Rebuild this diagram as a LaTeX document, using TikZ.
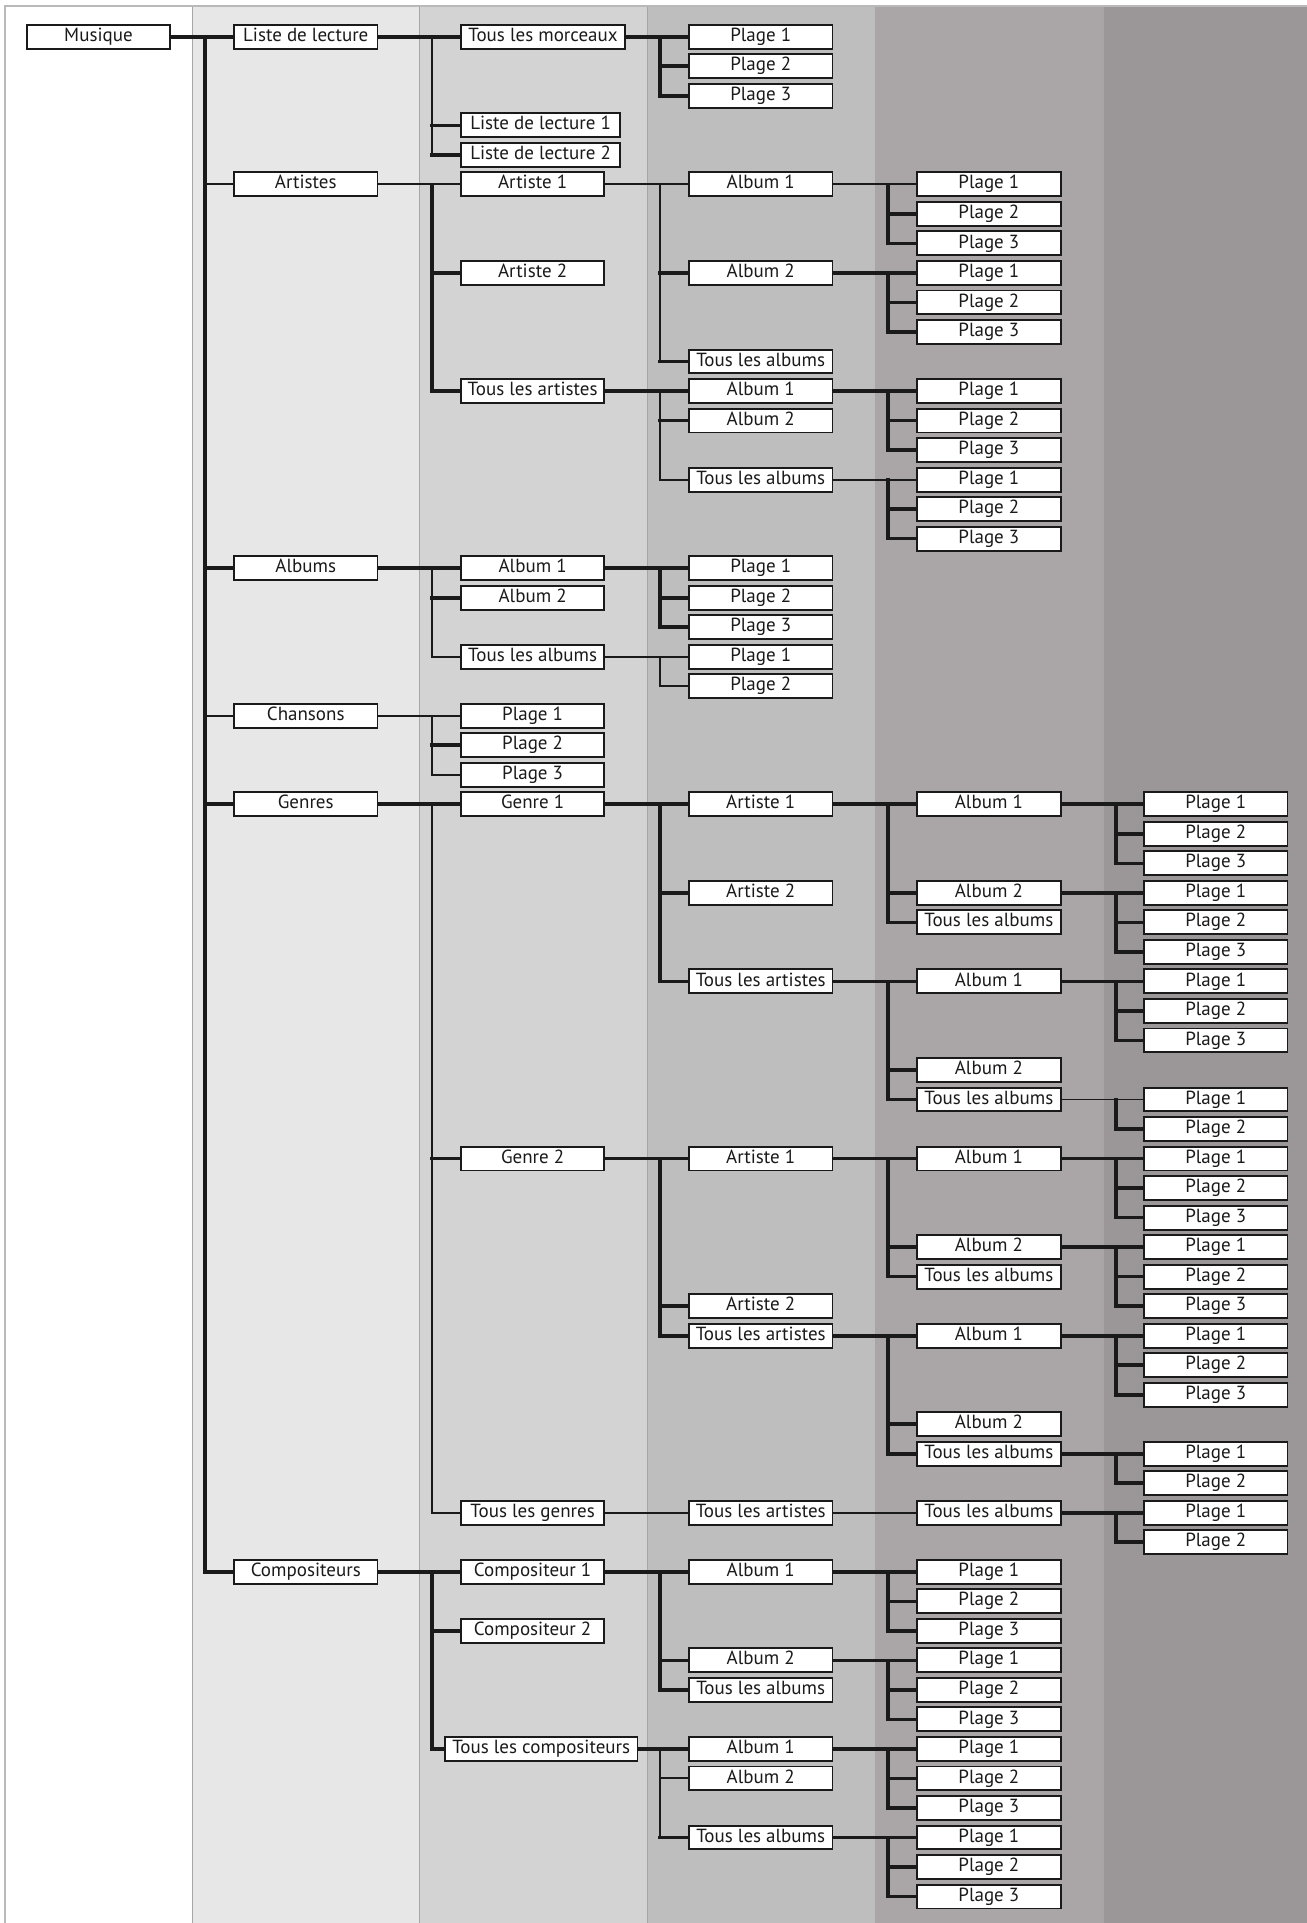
\documentclass[tikz,border=0pt]{standalone}
\usepackage{fontspec}
\setmainfont{PT Sans}
\usetikzlibrary{calc}
\definecolor{bA}{HTML}{FFFFFF}
\definecolor{bB}{HTML}{E7E7E7}
\definecolor{bC}{HTML}{D3D3D3}
\definecolor{bD}{HTML}{BEBEBE}
\definecolor{bE}{HTML}{AAA6A7}
\definecolor{bF}{HTML}{9B9798}
\definecolor{ink}{HTML}{1A1A1A}
\tikzset{
  box/.style={draw=ink, line width=1.6, fill=white, anchor=west, minimum width=117, minimum height=19.5, inner sep=0, text height=11, text depth=3.5, font=\fontsize{15.5}{17}\selectfont, text=ink},
  lk/.style={draw=ink, line width=3.0, line cap=rect},
  lt/.style={draw=ink, line width=1.6, line cap=rect},
  sep/.style={draw=gray!70, line width=0.8}
}
\newcommand\bx[5][117]{\node[box, minimum width=#1] (#2) at (#3,{30+24.07*#4}) {#5};}
\newcommand\plages[4]{\foreach \k in {1,...,#4} {\pgfmathtruncatemacro\rr{#3+\k-1}\node[box] (#1\k) at (#2,{30+24.07*\rr}) {Plage \k};}}
% #1 main style, #2 parent, #3 first child, #4 bus coord, #5 bus style, #6 last child, #7 stubs
\newcommand\branch[7]{%
  \draw[#5] (#4 |- #2.east) -- (#4 |- #6.west);
  \draw[#1] (#2.east) -- (#3.west);
  \foreach \s/\c in {#7} {\draw[\s] (#4 |- \c.west) -- (\c.west);}
}
\begin{document}
\begin{tikzpicture}[x=1pt,y=-1pt]
\useasboundingbox (0,0) rectangle (1065.7,1568);
% background bands
\fill[bA] (0,0) rectangle (1065.7,1568);
\fill[bB] (157,5) rectangle (342,1568);
\fill[bC] (342,5) rectangle (528,1568);
\fill[bD] (528,5) rectangle (714,1568);
\fill[bE] (714,5) rectangle (900,1568);
\fill[bF] (900,5) rectangle (1065.7,1568);
\foreach \xx in {157,342,528,714,900} {\draw[sep] (\xx,5) -- (\xx,1568);}
\draw[draw=gray!55, line width=1.2] (4,1575) -- (4,5) -- (1070,5);
% bus coordinates
\coordinate (xa) at (167,0);
\coordinate (xb) at (352,0);
\coordinate (xc) at (538,0);
\coordinate (xd) at (724,0);
\coordinate (xe) at (910,0);
% column A
\bx{mus}{21}{0}{Musique}
% column B
\bx{bll}{190}{0}{Liste de lecture}
\bx{bar}{190}{5}{Artistes}
\bx{bal}{190}{18}{Albums}
\bx{bch}{190}{23}{Chansons}
\bx{bge}{190}{26}{Genres}
\bx{bco}{190}{52}{Compositeurs}
% column C
\bx[134]{ctm}{375}{0}{Tous les morceaux}
\bx[130]{cla}{375}{3}{Liste de lecture 1}
\bx[130]{clb}{375}{4}{Liste de lecture 2}
\bx{caa}{375}{5}{Artiste 1}
\bx{cab}{375}{8}{Artiste 2}
\bx{cta}{375}{12}{Tous les artistes}
\bx{cala}{375}{18}{Album 1}
\bx{calb}{375}{19}{Album 2}
\bx{ctal}{375}{21}{Tous les albums}
\plages{cp}{375}{23}{3}
\bx{cga}{375}{26}{Genre 1}
\bx{cgb}{375}{38}{Genre 2}
\bx{ctg}{375}{50}{Tous les genres}
\bx{cca}{375}{52}{Compositeur 1}
\bx{ccb}{375}{54}{Compositeur 2}
\bx[157]{ctc}{362}{58}{Tous les compositeurs}
% column D
\plages{dtm}{561}{0}{3}
\bx{daa}{561}{5}{Album 1}
\bx{dab}{561}{8}{Album 2}
\bx{dat}{561}{11}{Tous les albums}
\bx{dta}{561}{12}{Album 1}
\bx{dtb}{561}{13}{Album 2}
\bx{dtt}{561}{15}{Tous les albums}
\plages{dalp}{561}{18}{3}
\plages{dtlp}{561}{21}{2}
\bx{dgaa}{561}{26}{Artiste 1}
\bx{dgab}{561}{29}{Artiste 2}
\bx{dgat}{561}{32}{Tous les artistes}
\bx{dgba}{561}{38}{Artiste 1}
\bx{dgbb}{561}{43}{Artiste 2}
\bx{dgbt}{561}{44}{Tous les artistes}
\bx{dtgt}{561}{50}{Tous les artistes}
\bx{dcaa}{561}{52}{Album 1}
\bx{dcab}{561}{55}{Album 2}
\bx{dcat}{561}{56}{Tous les albums}
\bx{dtca}{561}{58}{Album 1}
\bx{dtcb}{561}{59}{Album 2}
\bx{dtct}{561}{61}{Tous les albums}
% column E
\plages{epa}{747}{5}{3}
\plages{epb}{747}{8}{3}
\plages{epc}{747}{12}{3}
\plages{epd}{747}{15}{3}
\bx{eaaa}{747}{26}{Album 1}
\bx{eaab}{747}{29}{Album 2}
\bx{eaat}{747}{30}{Tous les albums}
\bx{eata}{747}{32}{Album 1}
\bx{eatb}{747}{35}{Album 2}
\bx{eatt}{747}{36}{Tous les albums}
\bx{ebaa}{747}{38}{Album 1}
\bx{ebab}{747}{41}{Album 2}
\bx{ebat}{747}{42}{Tous les albums}
\bx{ebta}{747}{44}{Album 1}
\bx{ebtb}{747}{47}{Album 2}
\bx{ebtt}{747}{48}{Tous les albums}
\bx{ettt}{747}{50}{Tous les albums}
\plages{epe}{747}{52}{3}
\plages{epf}{747}{55}{3}
\plages{epg}{747}{58}{3}
\plages{eph}{747}{61}{3}
% column F
\plages{fpa}{932}{26}{3}
\plages{fpb}{932}{29}{3}
\plages{fpc}{932}{32}{3}
\plages{fpd}{932}{36}{2}
\plages{fpe}{932}{38}{3}
\plages{fpf}{932}{41}{3}
\plages{fpg}{932}{44}{3}
\plages{fph}{932}{48}{2}
\plages{fpi}{932}{50}{2}
% connectors
\branch{lk}{mus}{bll}{xa}{lk}{bco}{lt/bar,lk/bal,lt/bch,lk/bge,lk/bco}
\branch{lk}{bll}{ctm}{xb}{lt}{clb}{lk/cla,lk/clb}
\branch{lk}{ctm}{dtm1}{xc}{lk}{dtm3}{lk/dtm2,lk/dtm3}
\branch{lt}{bar}{caa}{xb}{lk}{cta}{lk/cab,lk/cta}
\branch{lt}{caa}{daa}{xc}{lt}{dat}{lk/dab,lk/dat}
\branch{lt}{daa}{epa1}{xd}{lk}{epa3}{lk/epa2,lk/epa3}
\branch{lk}{dab}{epb1}{xd}{lk}{epb3}{lk/epb2,lk/epb3}
\branch{lk}{cta}{dta}{xc}{lt}{dtt}{lk/dtb,lt/dtt}
\branch{lk}{dta}{epc1}{xd}{lk}{epc3}{lk/epc2,lk/epc3}
\branch{lt}{dtt}{epd1}{xd}{lk}{epd3}{lk/epd2,lk/epd3}
\branch{lk}{bal}{cala}{xb}{lt}{ctal}{lk/calb,lt/ctal}
\branch{lk}{cala}{dalp1}{xc}{lk}{dalp3}{lk/dalp2,lk/dalp3}
\branch{lt}{ctal}{dtlp1}{xc}{lt}{dtlp2}{lt/dtlp2}
\branch{lt}{bch}{cp1}{xb}{lt}{cp3}{lk/cp2,lt/cp3}
\branch{lk}{bge}{cga}{xb}{lt}{ctg}{lk/cgb,lt/ctg}
\branch{lk}{cga}{dgaa}{xc}{lk}{dgat}{lk/dgab,lk/dgat}
\branch{lk}{dgaa}{eaaa}{xd}{lk}{eaat}{lk/eaab,lk/eaat}
\branch{lk}{eaaa}{fpa1}{xe}{lk}{fpa3}{lk/fpa2,lk/fpa3}
\branch{lk}{eaab}{fpb1}{xe}{lk}{fpb3}{lk/fpb2,lk/fpb3}
\branch{lk}{dgat}{eata}{xd}{lk}{eatt}{lk/eatb,lk/eatt}
\branch{lk}{eata}{fpc1}{xe}{lk}{fpc3}{lk/fpc2,lk/fpc3}
\branch{lt}{eatt}{fpd1}{xe}{lk}{fpd2}{lk/fpd2}
\branch{lk}{cgb}{dgba}{xc}{lk}{dgbt}{lk/dgbb,lk/dgbt}
\branch{lk}{dgba}{ebaa}{xd}{lk}{ebat}{lk/ebab,lk/ebat}
\branch{lk}{ebaa}{fpe1}{xe}{lk}{fpe3}{lk/fpe2,lk/fpe3}
\branch{lk}{ebab}{fpf1}{xe}{lk}{fpf3}{lk/fpf2,lk/fpf3}
\branch{lk}{dgbt}{ebta}{xd}{lk}{ebtt}{lk/ebtb,lk/ebtt}
\branch{lk}{ebta}{fpg1}{xe}{lk}{fpg3}{lk/fpg2,lk/fpg3}
\branch{lk}{ebtt}{fph1}{xe}{lk}{fph2}{lk/fph2}
\draw[lt] (ctg.east) -- (dtgt.west);
\draw[lt] (dtgt.east) -- (ettt.west);
\branch{lk}{ettt}{fpi1}{xe}{lk}{fpi2}{lk/fpi2}
\branch{lk}{bco}{cca}{xb}{lk}{ctc}{lk/ccb,lk/ctc}
\branch{lk}{cca}{dcaa}{xc}{lk}{dcat}{lk/dcab,lk/dcat}
\branch{lk}{dcaa}{epe1}{xd}{lk}{epe3}{lk/epe2,lk/epe3}
\branch{lk}{dcab}{epf1}{xd}{lk}{epf3}{lk/epf2,lk/epf3}
\branch{lk}{ctc}{dtca}{xc}{lt}{dtct}{lt/dtcb,lk/dtct}
\branch{lk}{dtca}{epg1}{xd}{lk}{epg3}{lk/epg2,lk/epg3}
\branch{lk}{dtct}{eph1}{xd}{lk}{eph3}{lk/eph2,lk/eph3}
\end{tikzpicture}
\end{document}
